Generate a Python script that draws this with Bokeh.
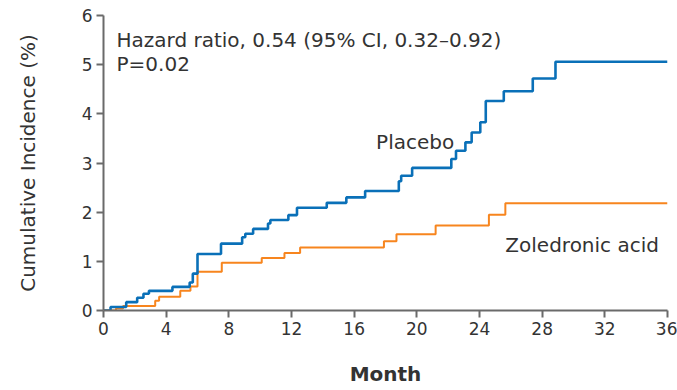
from bokeh.plotting import figure
from bokeh.models import Range1d, FixedTicker, Label
from bokeh.embed import file_html
from bokeh.resources import INLINE

# ---- data ----
placebo_month = [0, 0.45, 1.45, 2.15, 2.55, 2.9, 4.4, 5.5, 5.7, 6.0, 7.5, 8.85, 9.05, 9.55,
                 10.5, 10.65, 11.8, 12.35, 14.25, 15.5, 16.7, 18.85, 19.0, 19.7, 22.2, 22.5,
                 23.1, 23.5, 24.05, 24.4, 25.55, 27.4, 28.85, 36]
placebo_pct = [0, 0.07, 0.17, 0.26, 0.34, 0.40, 0.48, 0.57, 0.75, 1.15, 1.36, 1.49, 1.56, 1.66,
               1.77, 1.84, 1.94, 2.09, 2.19, 2.30, 2.43, 2.63, 2.74, 2.90, 3.08, 3.25,
               3.42, 3.62, 3.83, 4.26, 4.46, 4.72, 5.06, 5.06]

zol_month = [0, 0.8, 1.25, 3.3, 3.55, 4.9, 5.55, 6.0, 7.55, 10.1, 11.55, 12.55, 17.9, 18.7,
             21.2, 24.6, 25.65, 36]
zol_pct = [0, 0.04, 0.09, 0.20, 0.28, 0.40, 0.49, 0.79, 0.97, 1.07, 1.17, 1.28, 1.41, 1.55,
           1.73, 1.95, 2.18, 2.18]

x_ticks = [0, 4, 8, 12, 16, 20, 24, 28, 32, 36]
y_ticks = [0, 1, 2, 3, 4, 5, 6]

FONT = "DejaVu Sans"
TXT = "#333333"
AX = "#6a6a6a"
BLUE = "#0a70b8"
ORANGE = "#f7851e"

p = figure(width=677, height=390, output_backend="svg", toolbar_location=None,
           x_range=Range1d(0, 36), y_range=Range1d(0, 6),
           min_border_left=103, min_border_right=10, min_border_top=15, min_border_bottom=80)
p.outline_line_color = None
p.grid.visible = False
p.background_fill_color = "white"
p.border_fill_color = "white"

p.step(zol_month, zol_pct, mode="after", line_color=ORANGE, line_width=2)
p.step(placebo_month, placebo_pct, mode="after", line_color=BLUE, line_width=2.6)

for ax in (p.xaxis[0], p.yaxis[0]):
    ax.axis_line_color = AX
    ax.axis_line_width = 2
    ax.major_tick_line_color = AX
    ax.major_tick_line_width = 2
    ax.major_tick_out = 7
    ax.major_tick_in = 0
    ax.minor_tick_line_color = None
    ax.major_label_text_font = FONT
    ax.major_label_text_font_size = "17px"
    ax.major_label_text_color = TXT
    ax.axis_label_text_font = FONT
    ax.axis_label_text_color = TXT
    ax.axis_label_text_font_size = "20px"
    ax.major_label_standoff = 4

p.xaxis.ticker = FixedTicker(ticks=x_ticks)
p.yaxis.ticker = FixedTicker(ticks=y_ticks)
p.xaxis.axis_label = "Month"
p.xaxis.axis_label_text_font_style = "bold"
p.xaxis.axis_label_standoff = 24
p.yaxis.axis_label = "Cumulative Incidence (%)"
p.yaxis.axis_label_text_font_style = "normal"
p.yaxis.axis_label_standoff = 39

def lab(x, y, t, **kw):
    p.add_layout(Label(x=x, y=y, text=t, text_font=FONT, text_font_size="20px",
                       text_color=TXT, text_baseline="alphabetic", text_align="left", **kw))

lab(0.83, 5.51, "Hazard ratio, 0.54 (95% CI, 0.32\u20130.92)")
lab(0.83, 5.02, "P=0.02")
lab(17.4, 3.42, "Placebo")
lab(25.65, 1.34, "Zoledronic acid")

open("out.html", "w").write(file_html(p, INLINE))
